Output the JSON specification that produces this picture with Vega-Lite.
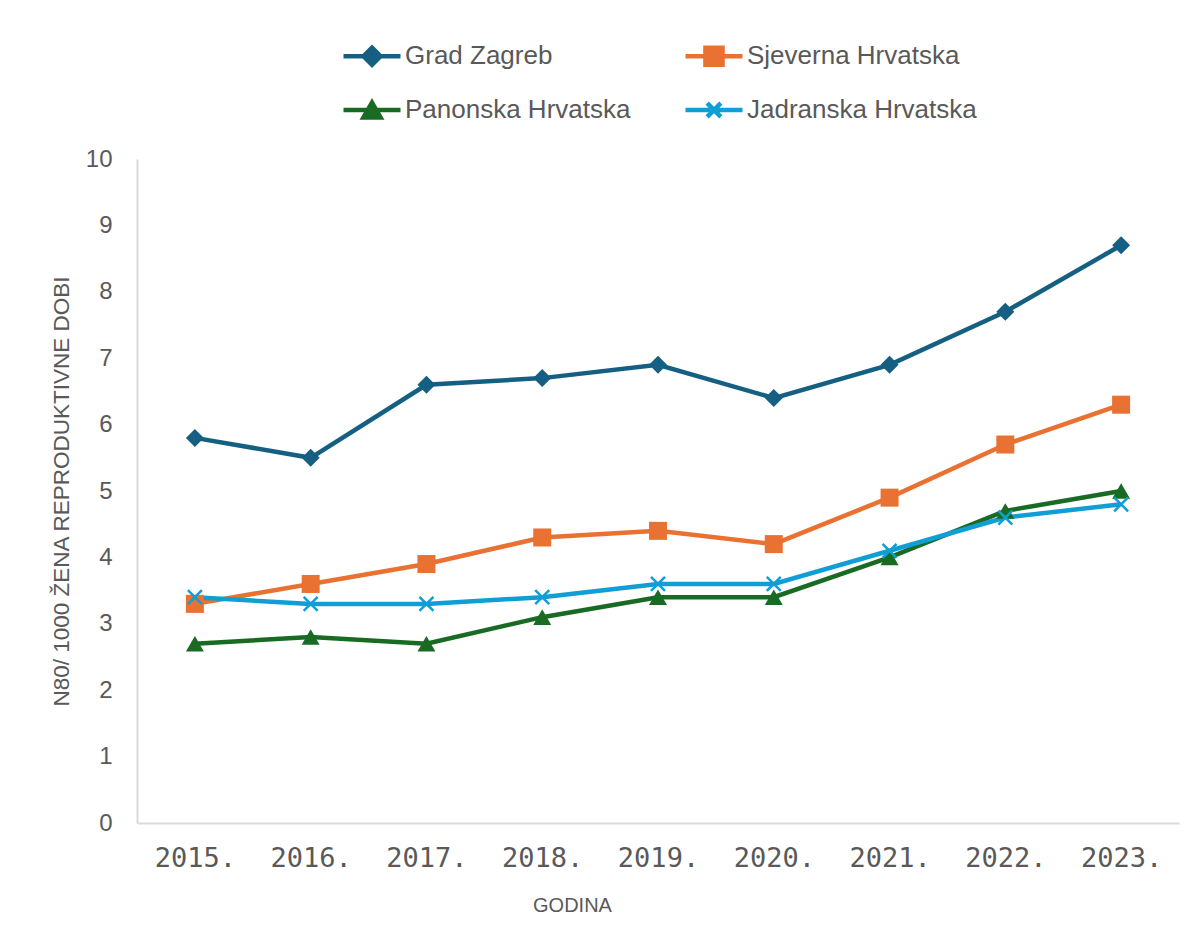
{
  "$schema": "https://vega.github.io/schema/vega-lite/v6.json",
  "width": 1042,
  "height": 664,
  "autosize": {"type": "none"},
  "padding": {"left": 137, "top": 159, "right": 18, "bottom": 120},
  "background": "white",
  "config": {"view": {"stroke": null}, "font": "Liberation Sans"},
  "data": {
    "values": [
      {"godina": "2015.", "regija": "Grad Zagreb", "vrijednost": 5.8},
      {"godina": "2016.", "regija": "Grad Zagreb", "vrijednost": 5.5},
      {"godina": "2017.", "regija": "Grad Zagreb", "vrijednost": 6.6},
      {"godina": "2018.", "regija": "Grad Zagreb", "vrijednost": 6.7},
      {"godina": "2019.", "regija": "Grad Zagreb", "vrijednost": 6.9},
      {"godina": "2020.", "regija": "Grad Zagreb", "vrijednost": 6.4},
      {"godina": "2021.", "regija": "Grad Zagreb", "vrijednost": 6.9},
      {"godina": "2022.", "regija": "Grad Zagreb", "vrijednost": 7.7},
      {"godina": "2023.", "regija": "Grad Zagreb", "vrijednost": 8.7},
      {"godina": "2015.", "regija": "Sjeverna Hrvatska", "vrijednost": 3.3},
      {"godina": "2016.", "regija": "Sjeverna Hrvatska", "vrijednost": 3.6},
      {"godina": "2017.", "regija": "Sjeverna Hrvatska", "vrijednost": 3.9},
      {"godina": "2018.", "regija": "Sjeverna Hrvatska", "vrijednost": 4.3},
      {"godina": "2019.", "regija": "Sjeverna Hrvatska", "vrijednost": 4.4},
      {"godina": "2020.", "regija": "Sjeverna Hrvatska", "vrijednost": 4.2},
      {"godina": "2021.", "regija": "Sjeverna Hrvatska", "vrijednost": 4.9},
      {"godina": "2022.", "regija": "Sjeverna Hrvatska", "vrijednost": 5.7},
      {"godina": "2023.", "regija": "Sjeverna Hrvatska", "vrijednost": 6.3},
      {"godina": "2015.", "regija": "Panonska Hrvatska", "vrijednost": 2.7},
      {"godina": "2016.", "regija": "Panonska Hrvatska", "vrijednost": 2.8},
      {"godina": "2017.", "regija": "Panonska Hrvatska", "vrijednost": 2.7},
      {"godina": "2018.", "regija": "Panonska Hrvatska", "vrijednost": 3.1},
      {"godina": "2019.", "regija": "Panonska Hrvatska", "vrijednost": 3.4},
      {"godina": "2020.", "regija": "Panonska Hrvatska", "vrijednost": 3.4},
      {"godina": "2021.", "regija": "Panonska Hrvatska", "vrijednost": 4.0},
      {"godina": "2022.", "regija": "Panonska Hrvatska", "vrijednost": 4.7},
      {"godina": "2023.", "regija": "Panonska Hrvatska", "vrijednost": 5.0},
      {"godina": "2015.", "regija": "Jadranska Hrvatska", "vrijednost": 3.4},
      {"godina": "2016.", "regija": "Jadranska Hrvatska", "vrijednost": 3.3},
      {"godina": "2017.", "regija": "Jadranska Hrvatska", "vrijednost": 3.3},
      {"godina": "2018.", "regija": "Jadranska Hrvatska", "vrijednost": 3.4},
      {"godina": "2019.", "regija": "Jadranska Hrvatska", "vrijednost": 3.6},
      {"godina": "2020.", "regija": "Jadranska Hrvatska", "vrijednost": 3.6},
      {"godina": "2021.", "regija": "Jadranska Hrvatska", "vrijednost": 4.1},
      {"godina": "2022.", "regija": "Jadranska Hrvatska", "vrijednost": 4.6},
      {"godina": "2023.", "regija": "Jadranska Hrvatska", "vrijednost": 4.8}
    ]
  },
  "encoding": {
    "x": {
      "field": "godina",
      "type": "ordinal",
      "scale": {"type": "point", "padding": 0.5},
      "axis": {
        "title": "GODINA",
        "labelAngle": 0,
        "ticks": false,
        "grid": false,
        "domainColor": "#d9d9d9",
        "domainWidth": 2,
        "labelFont": "DejaVu Sans Mono",
        "labelFontSize": 27,
        "labelColor": "#595959",
        "labelPadding": 22,
        "titleFont": "Liberation Sans",
        "titleFontSize": 20,
        "titleFontWeight": "normal",
        "titleColor": "#595959",
        "titleX": 435,
        "titleY": 82,
        "titleAlign": "center",
        "titleBaseline": "middle"
      }
    },
    "y": {
      "field": "vrijednost",
      "type": "quantitative",
      "scale": {"domain": [0, 10]},
      "axis": {
        "title": "N80/ 1000 ŽENA REPRODUKTIVNE DOBI",
        "values": [0, 1, 2, 3, 4, 5, 6, 7, 8, 9, 10],
        "grid": false,
        "ticks": false,
        "domainColor": "#d9d9d9",
        "domainWidth": 2,
        "labelFontSize": 24,
        "labelColor": "#595959",
        "labelPadding": 25,
        "titleFontSize": 22.5,
        "titleFontWeight": "normal",
        "titleColor": "#595959",
        "titlePadding": 12
      }
    },
    "color": {
      "field": "regija",
      "type": "nominal",
      "scale": {
        "domain": ["Grad Zagreb", "Sjeverna Hrvatska", "Panonska Hrvatska", "Jadranska Hrvatska"],
        "range": ["#156082", "#E97132", "#196B24", "#0F9ED5"]
      },
      "legend": {
        "orient": "none",
        "legendX": 204,
        "legendY": -134,
        "columns": 2,
        "direction": "horizontal",
        "title": null,
        "padding": 0,
        "symbolSize": 3249,
        "symbolStrokeWidth": 4.5,
        "labelFont": "Liberation Sans",
        "labelFontSize": 26,
        "labelColor": "#595959",
        "labelOffset": 2,
        "labelLimit": 400,
        "columnPadding": 45,
        "rowPadding": 5,
        "encode": {
          "symbols": {
            "update": {
              "shape": {"signal": "datum.value === 'Grad Zagreb' ? 'M-1,0H1M0,-0.3L0.3,0L0,0.3L-0.3,0Z' : datum.value === 'Sjeverna Hrvatska' ? 'M-1,0H1M-0.3,-0.3H0.3V0.3H-0.3Z' : datum.value === 'Panonska Hrvatska' ? 'M-1,0H1M0,-0.26L0.3,0.26L-0.3,0.26Z' : 'M-1,0H1M-0.24,-0.24L0.24,0.24M-0.24,0.24L0.24,-0.24'"},
              "fill": {"signal": "scale('color', datum.value)"},
              "stroke": {"signal": "scale('color', datum.value)"},
              "strokeWidth": {"value": 4.5},
              "opacity": {"value": 1},
              "fillOpacity": {"value": 1},
              "strokeOpacity": {"value": 1}
            }
          }
        }
      }
    }
  },
  "layer": [
    {
      "mark": {"type": "line", "strokeWidth": 4.5}
    },
    {
      "transform": [{"filter": "datum.regija !== 'Jadranska Hrvatska'"}],
      "mark": {"type": "point", "filled": true, "opacity": 1, "size": 324},
      "encoding": {
        "shape": {
          "field": "regija",
          "type": "nominal",
          "scale": {
            "domain": ["Grad Zagreb", "Sjeverna Hrvatska", "Panonska Hrvatska"],
            "range": ["diamond", "square", "triangle-up"]
          },
          "legend": null
        }
      }
    },
    {
      "transform": [{"filter": "datum.regija === 'Jadranska Hrvatska'"}],
      "mark": {
        "type": "point",
        "filled": false,
        "opacity": 1,
        "size": 196,
        "strokeWidth": 2.5,
        "shape": "M-1,-1L1,1M-1,1L1,-1"
      }
    }
  ]
}
